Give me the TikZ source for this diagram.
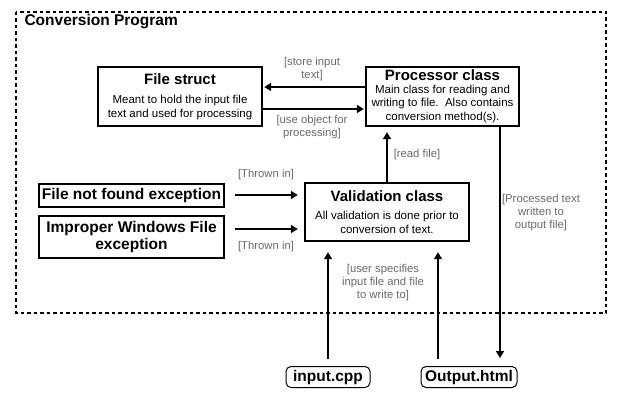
\documentclass[tikz,border=0pt]{standalone}
\usepackage{fontspec}
\setmainfont{Liberation Sans}
\usetikzlibrary{arrows.meta}
\definecolor{labelgray}{RGB}{105,105,105}
\newcommand{\titlefont}{\fontsize{15}{16}\selectfont\bfseries}
\newcommand{\bodyfont}{\fontsize{11.5}{13.5}\selectfont}
\newcommand{\excfont}{\fontsize{15.5}{17}\selectfont\bfseries}
\tikzset{
  classbox/.style={draw, line width=2.4pt, align=center, inner sep=0pt, font=\bodyfont},
  excbox/.style={draw, line width=2.4pt, align=center, inner sep=0pt, font=\excfont,
    minimum width=185pt},
  filebox/.style={draw, line width=1pt, rounded corners=5pt, inner sep=0pt,
    font=\fontsize{15.5}{17}\selectfont\bfseries, minimum height=21pt},
  flow/.style={line width=1.6pt, -{Triangle[length=7pt,width=8pt]}},
  tag/.style={text=labelgray, font=\fontsize{11.3}{13}\selectfont, align=center},
}
\begin{document}
\begin{tikzpicture}[x=1pt, y=-1pt]
  \useasboundingbox (0,0) rectangle (626,403);

  % Program frame
  \draw[line width=1.8pt, dash pattern=on 3.5pt off 3pt] (16,12) rectangle (606,313);
  \node[anchor=west, font=\fontsize{15.5}{17}\selectfont\bfseries] (prog) at (21,22) {Conversion Program};

  % Classes
  \node[classbox, minimum width=164pt, minimum height=59pt] (fstruct) at (180,96.5)
    {{\titlefont File struct}\\[6pt] Meant to hold the input file\\ text and used for processing};
  \node[classbox, minimum width=153pt, minimum height=59pt] (proc) at (442.5,96.5)
    {{\titlefont Processor class}\\[-1pt] Main class for reading and\\ writing to file.\ \ Also contains\\ conversion method(s).};
  \node[classbox, minimum width=164pt, minimum height=58pt] (valid) at (387,212)
    {{\titlefont Validation class}\\[5pt] All validation is done prior to\\ conversion of text.};

  % Exceptions
  \node[excbox, minimum height=23pt] (notfound) at (131.5,195.5) {File not found exception};
  \node[excbox, minimum height=42pt] (improper) at (131.5,237) {Improper Windows File\\ exception};

  % Files
  \node[filebox, minimum width=84pt] (input) at (328,377) {input.cpp};
  \node[filebox, minimum width=96pt] (output) at (469,377) {Output.html};

  % Connectors
  \draw[flow, shorten >=1pt] ([yshift=9.5pt]proc.west) -- ([yshift=9.5pt]proc.west -| fstruct.east);
  \draw[flow, shorten >=1pt] ([yshift=-12.5pt]fstruct.east) -- ([yshift=-12.5pt]fstruct.east -| proc.west);
  \draw[flow, shorten >=5pt] (valid.north) -- (valid.north |- proc.south);
  \draw[flow, shorten <=10pt, shorten >=6pt] ([yshift=0.5pt]notfound.east) -- ([yshift=0.5pt]notfound.east -| valid.west);
  \draw[flow, shorten <=10pt, shorten >=6pt] ([yshift=8pt]improper.east) -- ([yshift=8pt]improper.east -| valid.west);
  \draw[flow, shorten <=7pt, shorten >=10pt] (input.north) -- (input.north |- valid.south);
  \draw[flow, shorten <=7pt, shorten >=10pt] ([xshift=-31pt]output.north) -- ([xshift=-31pt]output.north |- valid.south);
  \draw[flow, shorten >=8pt] ([xshift=57.5pt]proc.south) -- ([xshift=57.5pt]proc.south |- output.north);

  % Labels
  \node[tag] (storelbl) at (312,69) {[store input\\ text]};
  \node[tag] (uselbl) at (312,127) {[use object for\\ processing]};
  \node[tag] (readlbl) at (417,155) {[read file]};
  \node[tag] (thrown1) at (266,175) {[Thrown in]};
  \node[tag] (thrown2) at (266,247) {[Thrown in]};
  \node[tag] (writelbl) at (541,213) {[Processed text\\ written to\\ output file]};
  \node[tag] (userlbl) at (383,283) {[user specifies\\ input file and file\\ to write to]};
\end{tikzpicture}
\end{document}
